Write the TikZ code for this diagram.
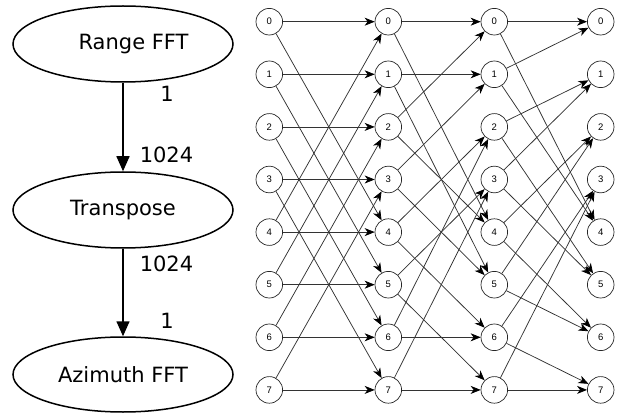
\documentclass[tikz,border=0pt]{standalone}
\usepackage{fontspec}
\setmainfont{DejaVu Sans}
\newfontfamily\nodefont{Liberation Sans}
\usetikzlibrary{shapes.geometric,arrows.meta}
\begin{document}
\begin{tikzpicture}[x=1pt,y=-1pt,
  stage/.style={ellipse, draw, line width=1.5pt, minimum width=220pt,
    minimum height=76pt, inner sep=0pt, font=\fontsize{21}{25}\selectfont},
  flow/.style={line width=1.5pt, -{Triangle[length=15pt,width=13pt]}},
  flowlabel/.style={inner sep=0pt, font=\fontsize{21}{25}\selectfont},
  bnode/.style={circle, draw=black!85, line width=0.7pt, minimum size=26.6pt,
    inner sep=0pt, font=\nodefont\fontsize{9.5}{11}\selectfont},
  wire/.style={line width=0.75pt, draw=black!80,
    -{Stealth[length=10pt,width=8pt,inset=3pt,black]}}]
\useasboundingbox (0,0) rectangle (621,414);

% processing pipeline
\node[stage] (range) at (123,44) {\hspace*{21pt}Range FFT};
\node[stage] (trans) at (123,210) {Transpose};
\node[stage, minimum height=75pt] (azi) at (123,374.5) {Azimuth FFT};
\draw[flow] (range) -- (trans);
\draw[flow] (trans) -- (azi);
\node[flowlabel] (l1) at (167,94) {1};
\node[flowlabel] (l2) at (166.5,155) {1024};
\node[flowlabel] (l3) at (166.5,263.5) {1024};
\node[flowlabel] (l4) at (167,320.5) {1};

% butterfly columns
\foreach \c/\x in {a/269.3, b/388.3, c/494.3, d/600.7}
  \foreach \k in {0,...,7}
    \node[bnode] (\c\k) at (\x, 21.7+52.6*\k) {\k};

% stage 1: span 4
\foreach \i in {0,...,3} {
  \pgfmathtruncatemacro{\j}{\i+4}
  \draw[wire] (a\i) -- (b\i);
  \draw[wire] (a\j) -- (b\i);
  \draw[wire] (a\i) -- (b\j);
  \draw[wire] (a\j) -- (b\j);
}

% stage 2
\foreach \s/\t in {0/0, 2/0, 1/1, 3/1, 4/2, 6/2, 5/3, 7/3,
                   0/4, 2/4, 1/5, 3/5, 4/6, 6/6, 5/7, 7/7}
  \draw[wire] (b\s) -- (c\t);

% stage 3
\foreach \s/\t in {0/0, 1/0, 2/1, 3/1, 4/2, 5/2, 6/3, 7/3,
                   0/4, 1/4, 2/5, 3/5, 4/6, 5/6, 6/7, 7/7}
  \draw[wire] (c\s) -- (d\t);
\end{tikzpicture}
\end{document}
